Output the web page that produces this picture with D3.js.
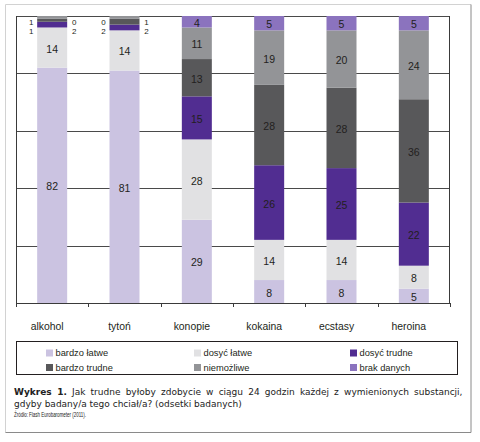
<!DOCTYPE html>
<html><head><meta charset="utf-8">
<script src="https://cdn.jsdelivr.net/npm/d3@7/dist/d3.min.js"></script>
<style>html,body{margin:0;padding:0;background:#fff;}svg{display:block;}</style>
</head><body>
<svg id="chart" width="480" height="442"></svg>
<script>
const categories = ["alkohol","tytoń","konopie","kokaina","ecstasy","heroina"];
const seriesNames = ["bardzo łatwe","dosyć łatwe","dosyć trudne","bardzo trudne","niemożliwe","brak danych"];
const bardzoLatwe  = [82,81,29, 8, 8, 5];
const dosycLatwe   = [14,14,28,14,14, 8];
const dosycTrudne  = [ 2, 2,15,26,25,22];
const bardzoTrudne = [ 1, 2,13,28,28,36];
const niemozliwe   = [ 1, 1,11,19,20,24];
const brakDanych   = [ 0, 0, 4, 5, 5, 5];
const seriesColors = ["#cbc3e1","#e1e1e3","#512d91","#58585a","#939497","#8b73be"];
const yTicks = [0,20,40,60,80,100];
// small values written outside the bar (left / right side, top to bottom)
const outsideCats  = ["alkohol","tytoń"];
const outsideLeft  = [["niemożliwe","bardzo trudne"],["brak danych","bardzo trudne"]];
const outsideRight = [["brak danych","dosyć trudne"],["niemożliwe","dosyć trudne"]];
const captionBold = "Wykres 1.";
const captionLine1 = "Jak trudne byłoby zdobycie w ciągu 24 godzin każdej z wymienionych substancji,";
const captionLine2 = "gdyby badany/a tego chciał/a? (odsetki badanych)";
const sourceText = "Źródło: Flash Eurobarometer (2011).";

const seriesValues = [bardzoLatwe,dosycLatwe,dosycTrudne,bardzoTrudne,niemozliwe,brakDanych];
const table = categories.map((c,i)=>{
  const row = {cat:c};
  seriesNames.forEach((s,j)=>row[s]=seriesValues[j][i]);
  return row;
});

const svg = d3.select("#chart");
const font = "'Liberation Sans', Arial, sans-serif";
const pLeft=16, pRight=450, pTop=16, pBottom=303;

// outer frame
svg.append("line").attr("x1",5.5).attr("x2",5.5).attr("y1",4.5).attr("y2",432.5).attr("stroke","#d2d2d2");
svg.append("line").attr("x1",5.5).attr("x2",471).attr("y1",4.5).attr("y2",4.5).attr("stroke","#d2d2d2");
svg.append("line").attr("x1",471).attr("x2",471).attr("y1",4.5).attr("y2",432.5).attr("stroke","#8a8a8a");
svg.append("line").attr("x1",5.5).attr("x2",471).attr("y1",432.5).attr("y2",432.5).attr("stroke","#8a8a8a");

const xOuter = d3.scaleBand().domain(categories).range([pLeft,pRight]).padding(0);
const barW = 30;
const y = d3.scaleLinear().domain([0,100]).range([pBottom,pTop]);

// gridlines
svg.append("g").selectAll("line").data(yTicks.filter(t=>t>0)).join("line")
  .attr("x1",pLeft).attr("x2",pRight)
  .attr("y1",d=>Math.round(y(d))+0.5).attr("y2",d=>Math.round(y(d))+0.5)
  .attr("stroke","#4a4a4a").attr("stroke-width",1);

const stack = d3.stack().keys(seriesNames)(table);
const color = d3.scaleOrdinal().domain(seriesNames).range(seriesColors);

const gBars = svg.append("g");
stack.forEach(layer=>{
  gBars.selectAll(null).data(layer).join("rect")
    .attr("x",d=>xOuter(d.data.cat)+(xOuter.bandwidth()-barW)/2)
    .attr("width",barW)
    .attr("y",d=>y(d[1]))
    .attr("height",d=>y(d[0])-y(d[1]))
    .attr("fill",color(layer.key));
});

// axes lines
svg.append("line").attr("x1",pLeft+0.5).attr("x2",pLeft+0.5).attr("y1",pTop).attr("y2",pBottom).attr("stroke","#3a3a3a");
svg.append("line").attr("x1",pRight-0.5).attr("x2",pRight-0.5).attr("y1",pTop).attr("y2",pBottom).attr("stroke","#3a3a3a");
const xAxis = d3.axisBottom(xOuter).tickSize(0).tickFormat(()=>"");
const gx = svg.append("g").attr("transform",`translate(0,${pBottom+0.5})`).call(xAxis);
gx.select(".domain").attr("stroke","#3a3a3a").attr("d",`M${pLeft},0H${pRight}`);
// boundary ticks
const bounds = categories.map(c=>xOuter(c)).concat([pRight]);
svg.append("g").selectAll("line").data(bounds).join("line")
  .attr("x1",d=>Math.round(d)+0.5).attr("x2",d=>Math.round(d)+0.5)
  .attr("y1",pBottom).attr("y2",pBottom+4).attr("stroke","#3a3a3a");

// segment labels
const gLab = svg.append("g").attr("font-family",font).attr("font-size","10.5px").attr("fill","#231f20").attr("text-anchor","middle");
stack.forEach(layer=>{
  gLab.selectAll(null).data(layer.filter(d=>(d[1]-d[0])>=4)).join("text")
    .attr("x",d=>xOuter(d.data.cat)+xOuter.bandwidth()/2)
    .attr("y",d=>y((d[0]+d[1])/2)+5)
    .text(d=>d[1]-d[0]);
});

// outside small labels
const gOut = svg.append("g").attr("font-family",font).attr("font-size","8px").attr("fill","#231f20").attr("text-anchor","middle");
outsideCats.forEach((c,i)=>{
  const row = table[categories.indexOf(c)];
  const bx = xOuter(c)+(xOuter.bandwidth()-barW)/2;
  outsideLeft[i].forEach((s,k)=>{
    gOut.append("text").attr("x",bx-6).attr("y",y(100)+8.5+k*9).text(row[s]);
  });
  outsideRight[i].forEach((s,k)=>{
    gOut.append("text").attr("x",bx+barW+7).attr("y",y(100)+8.5+k*9).text(row[s]);
  });
});

// category labels
svg.append("g").selectAll("text").data(categories).join("text")
  .attr("x",d=>xOuter(d)+xOuter.bandwidth()/2-5)
  .attr("y",329.5)
  .attr("text-anchor","middle")
  .attr("font-family",font).attr("font-size","10.4px").attr("fill","#231f20")
  .text(d=>d);

// legend
svg.append("rect").attr("x",16.5).attr("y",341.5).attr("width",441).attr("height",33)
  .attr("fill","none").attr("stroke","#231f20").attr("stroke-width",1);
const legX = [46,194,350], legY = [353,367.5];
const gLeg = svg.append("g");
seriesNames.forEach((s,i)=>{
  const cx = legX[i%3], cy = legY[Math.floor(i/3)];
  gLeg.append("rect").attr("x",cx).attr("y",cy-3.5).attr("width",7).attr("height",7).attr("fill",color(s));
  gLeg.append("text").attr("x",cx+9.5).attr("y",cy+3.3)
    .attr("font-family",font).attr("font-size","9.3px").attr("fill","#231f20").text(s);
});

// caption
const capFont = "'DejaVu Sans', Verdana, sans-serif";
const cap1 = svg.append("text").attr("x",14).attr("y",395).attr("font-family",capFont).attr("font-size","9px").attr("fill","#222");
cap1.append("tspan").attr("font-weight","bold").text(captionBold);
cap1.append("tspan").text(" "+captionLine1);
// justify line 1 to right edge
const targetW = 462.5-14;
const curW = cap1.node().getComputedTextLength();
const nSpaces = (captionBold+" "+captionLine1).split(" ").length-1;
cap1.attr("word-spacing",((targetW-curW)/nSpaces).toFixed(2)+"px");

svg.append("text").attr("x",14).attr("y",406.5).attr("font-family",capFont).attr("font-size","9px").attr("fill","#222").text(captionLine2);
svg.append("text").attr("x",14).attr("y",416.5).attr("font-family","'Liberation Sans Narrow', 'Liberation Sans', Arial, sans-serif")
  .attr("font-size","6.8px").attr("fill","#222").attr("textLength",72).attr("lengthAdjust","spacingAndGlyphs").text(sourceText);
</script>
</body></html>
